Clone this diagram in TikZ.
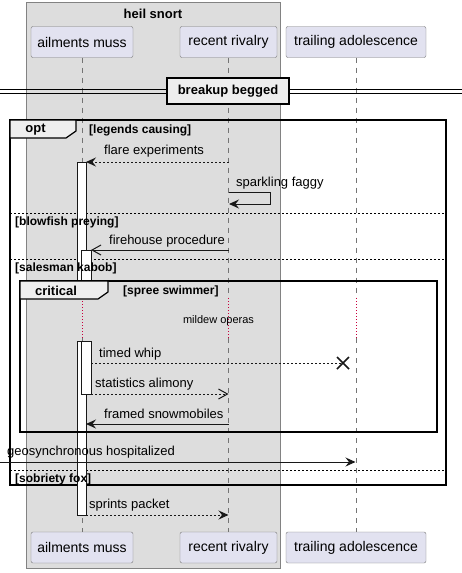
\documentclass[tikz,border=0pt]{standalone}
\usepackage{fontspec}
\setmainfont{Liberation Sans}
\usetikzlibrary{arrows.meta}
\definecolor{partfill}{RGB}{226,226,240}
\definecolor{partdraw}{RGB}{120,120,120}
\definecolor{boxfill}{RGB}{221,221,221}
\definecolor{boxdraw}{RGB}{130,130,130}
\definecolor{tabfill}{RGB}{238,238,238}
\definecolor{ink}{RGB}{24,24,24}
\definecolor{delayred}{RGB}{200,0,60}
\newcommand\fpart{\fontsize{14}{16}\selectfont}
\newcommand\fmsg{\fontsize{13}{15}\selectfont}
\newcommand\fhead{\fontsize{13}{15}\selectfont\bfseries}
\newcommand\fguard{\fontsize{12}{14}\selectfont\bfseries}
\newcommand\fsmall{\fontsize{11}{13}\selectfont}
\tikzset{
  part/.style={draw=partdraw, fill=partfill, rounded corners=2pt, minimum height=31pt, inner sep=0pt, font=\fpart, text=black},
  lifeline/.style={draw=ink!60, dash pattern=on 5pt off 5pt, line width=0.8pt},
  delayline/.style={draw=delayred, dash pattern=on 1pt off 2pt, line width=0.8pt},
  frame/.style={draw=black, line width=1.5pt},
  tab/.style={draw=black, line width=1.2pt, fill=tabfill},
  sep/.style={draw=black, dash pattern=on 2pt off 2pt, line width=0.8pt},
  actbox/.style={draw=ink, fill=white, line width=1pt},
  msg/.style={draw=ink, line width=1pt},
  dmsg/.style={msg, dash pattern=on 2pt off 2pt},
  filled/.style={-{Stealth[length=10pt,width=9pt,inset=3.5pt]}},
  openarr/.style={-{Straight Barb[length=9pt,width=10pt,line width=1pt]}},
  lbl/.style={anchor=west, inner sep=0pt, font=\fmsg, text=black},
  guard/.style={anchor=west, inner sep=0pt, font=\fguard, text=black},
}
\begin{document}
\begin{tikzpicture}[x=1pt,y=-1pt]
\useasboundingbox (0,0) rectangle (462,573);
% group box
\draw[fill=boxfill, draw=boxdraw, line width=1pt] (26,2) rectangle (280,568);
\node[font=\fhead, inner sep=0pt] (boxtitle) at (153,14) {heil snort};
% participants
\node[part, minimum width=102pt] (am) at (82,42) {ailments muss};
\node[part, minimum width=97pt] (rr) at (228.5,42) {recent rivalry};
\node[part, minimum width=140pt] (ta) at (356,42) {trailing adolescence};
\node[part, minimum width=102pt] (amb) at (82,547.5) {ailments muss};
\node[part, minimum width=97pt] (rrb) at (228.5,547.5) {recent rivalry};
\node[part, minimum width=140pt] (tab) at (356,547.5) {trailing adolescence};
% lifeline coordinates
\coordinate (amd1) at (82,298); \coordinate (amd2) at (82,338);
\coordinate (rrd1) at (228.5,298); \coordinate (rrd2) at (228.5,338);
\coordinate (tad1) at (356,298); \coordinate (tad2) at (356,338);
\draw[lifeline] (am.south) -- (amd1); \draw[lifeline] (amd2) -- (amb.north);
\draw[lifeline] (rr.south) -- (rrd1); \draw[lifeline] (rrd2) -- (rrb.north);
\draw[lifeline] (ta.south) -- (tad1); \draw[lifeline] (tad2) -- (tab.north);
\draw[delayline] (amd1) -- (amd2);
\draw[delayline] (rrd1) -- (rrd2);
\draw[delayline] (tad1) -- (tad2);
% divider
\coordinate (dl1) at (0,89); \coordinate (dr1) at (462,89);
\coordinate (dl2) at (0,93); \coordinate (dr2) at (462,93);
\draw[black, line width=1pt] (dl1) -- (dr1);
\draw[black, line width=1pt] (dl2) -- (dr2);
\node[tab, minimum width=122pt, minimum height=26pt, inner sep=0pt, font=\fhead, line width=1.5pt] (div) at (228,91) {breakup begged};
% opt frame
\draw[frame] (10,120) rectangle (446,485);
\draw[tab] (10,120) -- (76,120) -- (76,131) -- (66,138) -- (10,138) -- cycle;
\node[font=\fhead, inner sep=0pt] (optlbl) at (35.5,129.5) {opt};
\node[guard] (g1) at (89,130) {[legends causing]};
\draw[sep] (10,213) -- (446,213);
\draw[sep] (10,259) -- (446,259);
\draw[sep] (10,470) -- (446,470);
% activation boxes
\node[actbox, anchor=north west, minimum width=9pt, minimum height=119pt, inner sep=0pt] (a1) at (77,162) {};
\node[actbox, anchor=north west, minimum width=10pt, minimum height=31pt, inner sep=0pt] (a2) at (81,250) {};
\node[actbox, anchor=north west, minimum width=9pt, minimum height=174pt, inner sep=0pt] (a3) at (77,341) {};
\node[actbox, anchor=north west, minimum width=10pt, minimum height=53pt, inner sep=0pt] (a4) at (81,341) {};
% guard labels over boxes
\node[guard] (g2) at (15,222) {[blowfish preying]};
\node[guard] (g3) at (15,268) {[salesman kabob]};
\node[guard] (g4) at (15,479) {[sobriety fox]};
% critical frame
\draw[frame] (20,281) rectangle (437,432);
\draw[tab] (20,281) -- (108,281) -- (108,292) -- (98,299) -- (20,299) -- cycle;
\node[font=\fhead, inner sep=0pt] (critlbl) at (56,290.5) {critical};
\node[guard] (g5) at (123,291) {[spree swimmer]};
\node[font=\fsmall, inner sep=0pt] (delay) at (218.5,321) {mildew operas};
% messages
\coordinate (m1s) at (228.5,162); \coordinate (m1e) at (86,162);
\draw[dmsg, filled] (m1s) -- (m1e);
\node[lbl] (l1) at (104,151) {flare experiments};
\coordinate (m2s) at (228.5,192); \coordinate (m2a) at (270,192);
\coordinate (m2b) at (270,204); \coordinate (m2e) at (229,204);
\draw[msg, filled] (m2s) -- (m2a) -- (m2b) -- (m2e);
\node[lbl] (l2) at (236,183) {sparkling faggy};
\coordinate (m3s) at (228.5,250); \coordinate (m3e) at (91,250);
\draw[msg, openarr] (m3s) -- (m3e);
\node[lbl] (l3) at (109,241) {firehouse procedure};
\coordinate (m4s) at (91,363); \coordinate (xc) at (343,363);
\draw[dmsg] (m4s) -- (xc);
\draw[ink, line width=1.6pt] (337,357) -- (349,369) (337,369) -- (349,357);
\node[lbl] (l4) at (99,354) {timed whip};
\coordinate (m5s) at (91,394); \coordinate (m5e) at (228.5,394);
\draw[dmsg, openarr] (m5s) -- (m5e);
\node[lbl] (l5) at (95,384) {statistics alimony};
\coordinate (m6s) at (228.5,424); \coordinate (m6e) at (86,424);
\draw[msg, filled] (m6s) -- (m6e);
\node[lbl] (l6) at (104,414) {framed snowmobiles};
\coordinate (m7s) at (0,462); \coordinate (m7e) at (355.5,462);
\draw[msg, filled] (m7s) -- (m7e);
\node[lbl] (l7) at (7,452) {geosynchronous hospitalized};
\coordinate (m8s) at (86,515); \coordinate (m8e) at (228.5,515);
\draw[dmsg, filled] (m8s) -- (m8e);
\node[lbl] (l8) at (89,505) {sprints packet};
\end{tikzpicture}
\end{document}
